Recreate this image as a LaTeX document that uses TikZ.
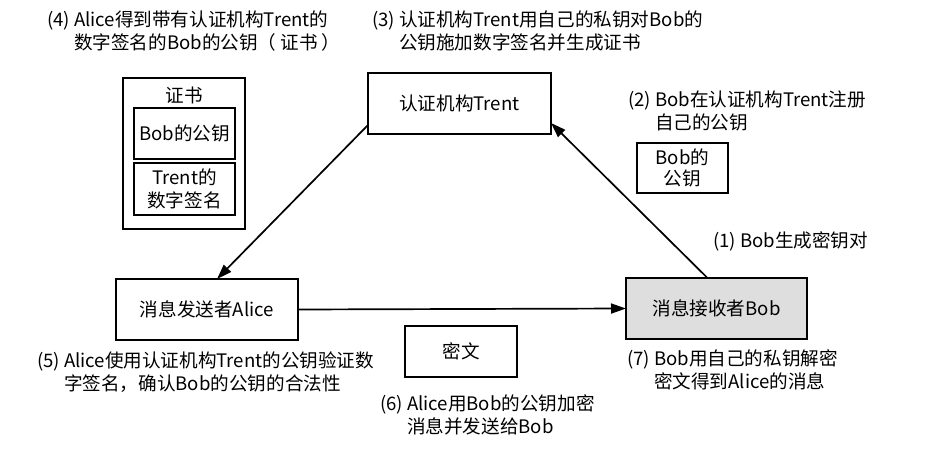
\documentclass[tikz,border=0pt]{standalone}
\usepackage{fontspec}
\setmainfont{Noto Sans CJK SC}
\usetikzlibrary{arrows.meta}
\begin{document}
\begin{tikzpicture}[x=1pt,y=-1pt,
  every node/.style={font=\fontsize{18.6}{23}\selectfont, inner sep=0pt, outer sep=0pt},
  box/.style={draw, line width=2pt, align=center},
  lbl/.style={anchor=base west, align=left},
  arr/.style={line width=1.7pt, -{Triangle[length=15pt,width=10pt]}}]
\useasboundingbox (0,0) rectangle (939,468);

% main boxes
\node[box, minimum width=183pt, minimum height=61pt] (trent) at (459.5,103.5) {认证机构Trent};
\node[box, minimum width=182pt, minimum height=61pt] (alice) at (207,309.5) {消息发送者Alice};
\node[box, fill=black!13, minimum width=181pt, minimum height=61pt] (bob) at (716.5,308.5) {消息接收者Bob};
\node[box, minimum width=112pt, minimum height=51pt] (cipher) at (461,351.5) {密文};
\node[box, minimum width=91pt, minimum height=50pt] (bobkey) at (682.5,168) {Bob的\\[-2pt]公钥};

% certificate
\node[box, minimum width=122pt, minimum height=151pt] (cert) at (184,153.5) {};
\node (certtitle) at (184,95) {证书};
\node[box, minimum width=101pt, minimum height=51pt] (certkey) at (184.5,133.5) {Bob的公钥};
\node[box, minimum width=101pt, minimum height=52pt] (certsig) at (184.5,189) {Trent的\\数字签名};

% labels (base = baseline of the last line)
\node[lbl] (l4) at (47,50) {(4) Alice得到带有认证机构Trent的\\\phantom{(4) }数字签名的Bob的公钥（\hspace{4pt}证书\hspace{4pt}）};
\node[lbl] (l3) at (372,50) {(3) 认证机构Trent用自己的私钥对Bob的\\\phantom{(3) }公钥施加数字签名并生成证书};
\node[lbl] (l2) at (628,130) {(2) Bob在认证机构Trent注册\\\phantom{(2) }自己的公钥};
\node[lbl] (l1) at (713,247) {(1) Bob生成密钥对};
\node[lbl] (l5) at (37,390) {(5) Alice使用认证机构Trent的公钥验证数\\\phantom{(5) }字签名，确认Bob的公钥的合法性};
\node[lbl] (l6) at (380,433) {(6) Alice用Bob的公钥加密\\\phantom{(6) }消息并发送给Bob};
\node[lbl] (l7) at (627,388) {(7) Bob用自己的私钥解密\\\phantom{(7) }密文得到Alice的消息};

% connectors
\draw[arr] ([yshift=9pt]trent.south west) -- ([xshift=10pt]alice.north);
\draw[arr] (alice.east) -- (bob.west);
\draw[arr] ([xshift=-9pt]bob.north) -- ([yshift=11pt]trent.south east);
\end{tikzpicture}
\end{document}
